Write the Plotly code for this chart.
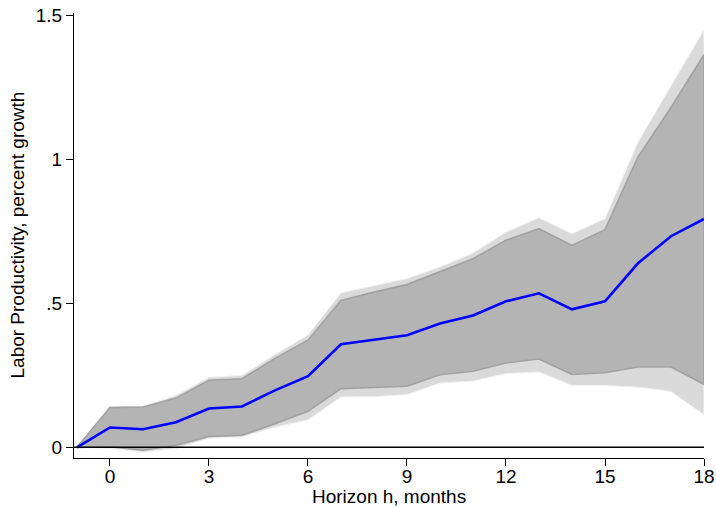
import plotly.graph_objects as go

# Local projection: labor productivity response by horizon
horizon = [-1, 0, 1, 2, 3, 4, 5, 6, 7, 8, 9, 10, 11, 12, 13, 14, 15, 16, 17, 18]
estimate = [0, 0.069, 0.063, 0.087, 0.135, 0.142, 0.198, 0.247, 0.358, 0.373,
            0.389, 0.430, 0.458, 0.507, 0.535, 0.479, 0.507, 0.639, 0.733, 0.793]

# Inner confidence band
inner_lo = [0, 0.002, -0.010, 0.007, 0.038, 0.042, 0.082, 0.125, 0.204, 0.207,
            0.212, 0.252, 0.264, 0.293, 0.307, 0.253, 0.259, 0.279, 0.279, 0.219]
inner_hi = [0, 0.138, 0.140, 0.171, 0.233, 0.238, 0.309, 0.372, 0.510, 0.539,
            0.565, 0.609, 0.655, 0.719, 0.759, 0.701, 0.756, 1.008, 1.180, 1.363]

# Outer confidence band
outer_lo = [0, -0.003, -0.017, -0.004, 0.032, 0.036, 0.070, 0.095, 0.175, 0.176,
            0.183, 0.223, 0.230, 0.256, 0.262, 0.215, 0.215, 0.209, 0.194, 0.113]
outer_hi = [0, 0.142, 0.142, 0.180, 0.243, 0.250, 0.322, 0.390, 0.536, 0.560,
            0.586, 0.626, 0.675, 0.747, 0.797, 0.742, 0.794, 1.060, 1.255, 1.450]

x_ticks = [0, 3, 6, 9, 12, 15, 18]
y_ticks = [0, 0.5, 1, 1.5]
y_tick_text = ["0", ".5", "1", "1.5"]
x_title = "Horizon h, months"
y_title = "Labor Productivity, percent growth"

FONT = "Liberation Sans, Arial, sans-serif"

fig = go.Figure()


def band(lo, hi, fill, edge, width):
    fig.add_trace(go.Scatter(
        x=horizon + horizon[::-1],
        y=hi + lo[::-1],
        fill="toself",
        fillcolor=fill,
        line=dict(color=edge, width=width),
        mode="lines",
        hoverinfo="skip",
        showlegend=False,
    ))


band(outer_lo, outer_hi, "#dadada", "#f2f2f2", 1)
band(inner_lo, inner_hi, "#b4b4b4", "#a2a2a2", 1.6)

fig.add_trace(go.Scatter(
    x=horizon, y=estimate, mode="lines",
    line=dict(color="#0000ff", width=2.6),
    showlegend=False,
))

# Zero reference line across the plot region
fig.add_shape(type="line", xref="paper", x0=0, x1=1, yref="y", y0=0, y1=0,
              line=dict(color="black", width=1.5), layer="above")

# x-axis title placed under the tick labels
fig.add_annotation(text=x_title, xref="paper", yref="paper", x=0.5, y=0,
                   xanchor="center", yanchor="middle", yshift=-38,
                   showarrow=False, font=dict(size=19))

# y-axis title, rotated, left of the tick labels
fig.add_annotation(text=y_title, xref="paper", yref="paper", x=0, y=0.5,
                   xanchor="center", yanchor="middle", xshift=-57,
                   textangle=-90, showarrow=False, font=dict(size=19))

fig.update_layout(
    width=716, height=506,
    margin=dict(l=74, r=12, t=13, b=48, autoexpand=False),
    paper_bgcolor="white", plot_bgcolor="white",
    font=dict(family=FONT, size=19, color="black"),
    xaxis=dict(
        range=[-1.09, 18.0],
        tickvals=x_ticks,
        ticks="outside", ticklen=7, tickwidth=1.3, tickcolor="black",
        ticklabelstandoff=-6,
        showline=True, linecolor="black", linewidth=1.3,
        showgrid=False, zeroline=False, automargin=False,
        tickfont=dict(size=19),
    ),
    yaxis=dict(
        range=[-0.037, 1.508],
        tickvals=y_ticks, ticktext=y_tick_text,
        ticks="outside", ticklen=7, tickwidth=1.3, tickcolor="black",
        showline=True, linecolor="black", linewidth=1.3,
        showgrid=False, zeroline=False, automargin=False,
        tickfont=dict(size=19),
    ),
)

fig.write_html("out.html")
